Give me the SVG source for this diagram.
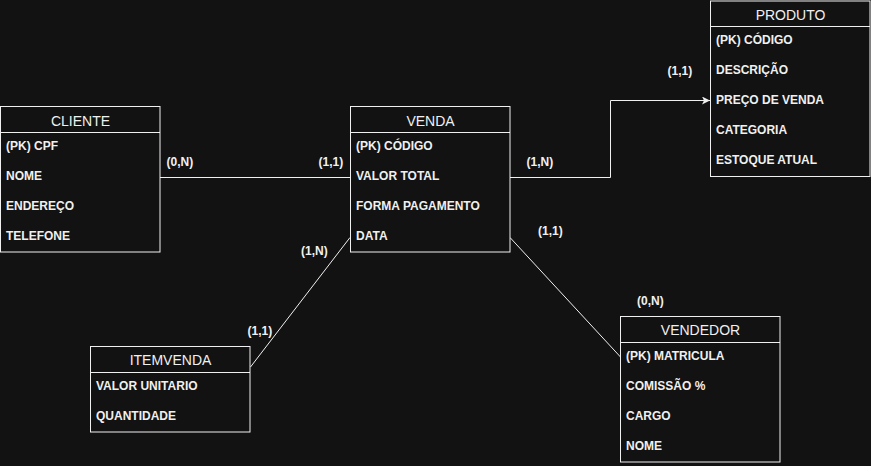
<svg xmlns="http://www.w3.org/2000/svg" width="871" height="466" viewBox="0 0 871 466">
<style>
.box{fill:#121212;stroke:#f0f0f0;stroke-width:1}
.sep{stroke:#f0f0f0;stroke-width:1}
.hd{font-family:"Liberation Sans",Arial,sans-serif;font-size:14px;fill:#f0f0f0;text-anchor:middle}
.row{font-family:"Liberation Sans",Arial,sans-serif;font-size:12px;font-weight:bold;fill:#f0f0f0}
.lbl{font-family:"Liberation Sans",Arial,sans-serif;font-size:12px;font-weight:bold;fill:#f0f0f0}
.ln{fill:none;stroke:#f0f0f0;stroke-width:1}
</style>
<defs>
<marker id="arr" viewBox="0 0 10 10" refX="10" refY="5" markerWidth="8" markerHeight="8" markerUnits="userSpaceOnUse" orient="auto">
<path d="M0,0 L10,5 L0,10 L2.5,5 Z" fill="#f0f0f0"/>
</marker>
</defs>
<rect x="0" y="0" width="871" height="466" fill="#121212"/>

<g id="connectors">
<line class="ln" x1="160" y1="177.5" x2="350" y2="177.5"/>
<path class="ln" d="M510,177.5 H610.5 V100.5 H710" marker-end="url(#arr)"/>
<line class="ln" x1="250.5" y1="367" x2="350" y2="237.5"/>
<line class="ln" x1="510" y1="237.5" x2="620.5" y2="357"/>
<text class="lbl" x="166.5" y="166">(0,N)</text>
<text class="lbl" x="318.5" y="166">(1,1)</text>
<text class="lbl" x="301" y="255">(1,N)</text>
<text class="lbl" x="247.5" y="335">(1,1)</text>
<text class="lbl" x="526.5" y="166">(1,N)</text>
<text class="lbl" x="667.5" y="75">(1,1)</text>
<text class="lbl" x="538" y="235">(1,1)</text>
<text class="lbl" x="637" y="305">(0,N)</text>
</g>

<g id="cliente">
<rect class="box" x="0.5" y="106.5" width="159.5" height="145.5"/>
<line class="sep" x1="0.5" y1="132.5" x2="160" y2="132.5"/>
<text class="hd" x="80.5" y="125.5">CLIENTE</text>
<text class="row" x="6" y="150">(PK) CPF</text>
<text class="row" x="6" y="180">NOME</text>
<text class="row" x="6" y="210">ENDEREÇO</text>
<text class="row" x="6" y="240">TELEFONE</text>
</g>

<g id="venda">
<rect class="box" x="350.5" y="106.5" width="159.5" height="145.5"/>
<line class="sep" x1="350.5" y1="132.5" x2="510" y2="132.5"/>
<text class="hd" x="430.5" y="125.5">VENDA</text>
<text class="row" x="356" y="150">(PK) CÓDIGO</text>
<text class="row" x="356" y="180">VALOR TOTAL</text>
<text class="row" x="356" y="210">FORMA PAGAMENTO</text>
<text class="row" x="356" y="240">DATA</text>
</g>

<g id="produto">
<rect class="box" x="710.5" y="1" width="159.5" height="175.5"/>
<line class="sep" x1="710.5" y1="26.5" x2="870" y2="26.5"/>
<text class="hd" x="790.5" y="19.5">PRODUTO</text>
<text class="row" x="716" y="44">(PK) CÓDIGO</text>
<text class="row" x="716" y="74">DESCRIÇÃO</text>
<text class="row" x="716" y="104">PREÇO DE VENDA</text>
<text class="row" x="716" y="134">CATEGORIA</text>
<text class="row" x="716" y="164">ESTOQUE ATUAL</text>
</g>

<g id="itemvenda">
<rect class="box" x="90.5" y="346.5" width="159.5" height="85.5"/>
<line class="sep" x1="90.5" y1="372.5" x2="250" y2="372.5"/>
<text class="hd" x="170.5" y="365">ITEMVENDA</text>
<text class="row" x="96" y="389.5">VALOR UNITARIO</text>
<text class="row" x="96" y="419.5">QUANTIDADE</text>
</g>

<g id="vendedor">
<rect class="box" x="620.5" y="316.5" width="159.5" height="145.5"/>
<line class="sep" x1="620.5" y1="342.5" x2="780" y2="342.5"/>
<text class="hd" x="700.5" y="335">VENDEDOR</text>
<text class="row" x="626" y="360">(PK) MATRICULA</text>
<text class="row" x="626" y="390">COMISSÃO %</text>
<text class="row" x="626" y="420">CARGO</text>
<text class="row" x="626" y="450">NOME</text>
</g>
</svg>
